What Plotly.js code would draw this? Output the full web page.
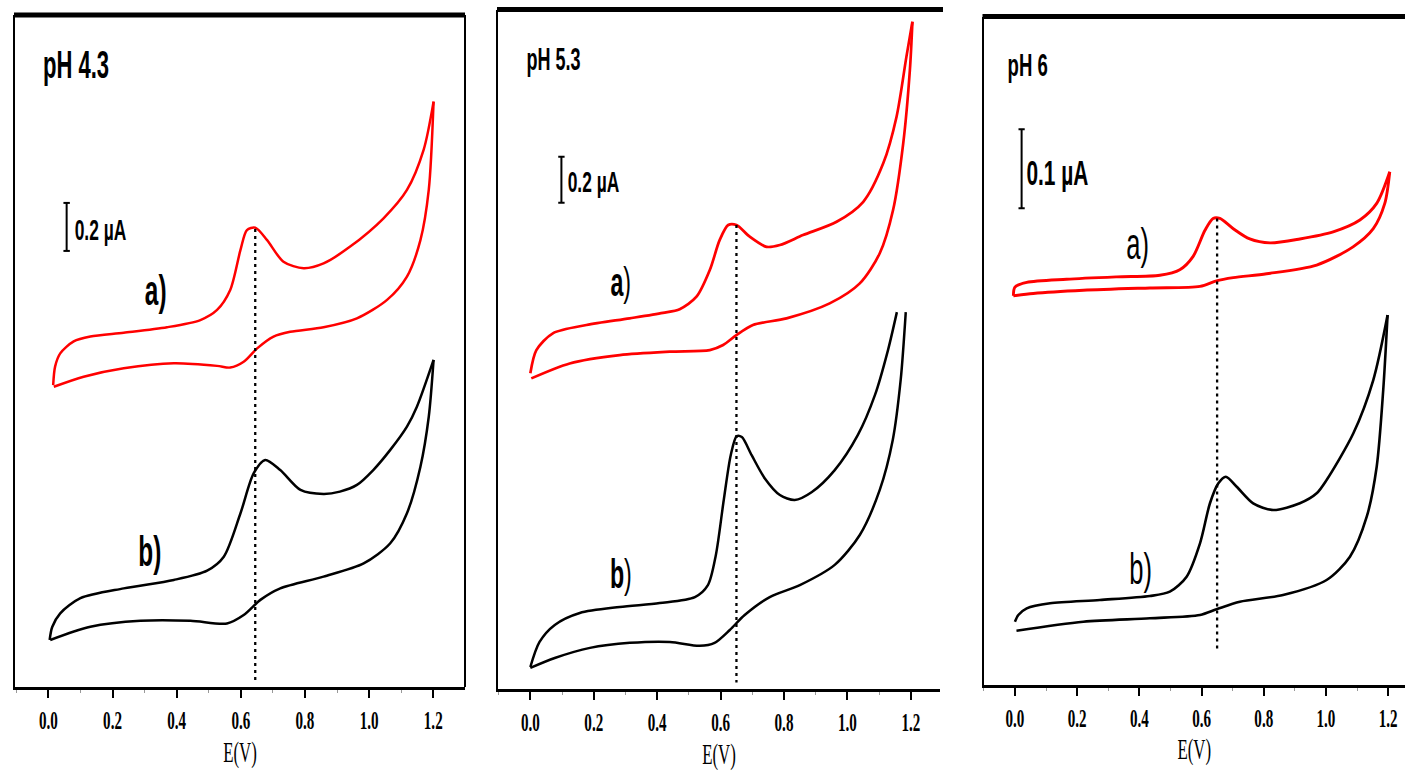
<!DOCTYPE html>
<html>
<head>
<meta charset="utf-8">
<script src="https://cdn.plot.ly/plotly-3.0.1.min.js"></script>
<style>html,body{margin:0;padding:0;background:#fff;}#chart{width:1405px;height:774px;}</style>
</head>
<body>
<div id="chart"></div>
<script>
// ---------- DATA (E in V, I in µA) ----------
// pH 4.3
const ph43_a_fwd_E = [0.015,0.021,0.037,0.079,0.131,0.235,0.37,0.474,0.526,0.567,0.599,0.619,0.645,0.682,0.733,0.796,0.858,0.941,1.045,1.118,1.17,1.201];
const ph43_a_fwd_I = [1.258,1.335,1.39,1.44,1.46,1.476,1.499,1.529,1.571,1.654,1.821,1.904,1.914,1.862,1.772,1.745,1.765,1.835,1.953,2.071,2.238,2.439];
const ph43_a_rev_E = [1.201,1.186,1.16,1.118,1.056,0.962,0.858,0.754,0.702,0.651,0.609,0.567,0.526,0.391,0.235,0.11,0.017];
const ph43_a_rev_I = [2.439,2.071,1.862,1.71,1.613,1.536,1.499,1.48,1.46,1.411,1.355,1.331,1.338,1.349,1.328,1.293,1.251];
const ph43_b_fwd_E = [0.004,0.012,0.037,0.1,0.235,0.391,0.495,0.547,0.599,0.64,0.676,0.723,0.786,0.858,0.909,0.962,1.013,1.066,1.118,1.149,1.201];
const ph43_b_fwd_I = [0.196,0.25,0.307,0.37,0.411,0.446,0.485,0.543,0.724,0.89,0.946,0.904,0.821,0.804,0.814,0.842,0.904,0.988,1.085,1.168,1.363];
const ph43_b_rev_E = [1.201,1.186,1.16,1.118,1.066,0.983,0.858,0.723,0.661,0.609,0.557,0.443,0.287,0.131,0.006];
const ph43_b_rev_I = [1.363,1.126,0.918,0.724,0.599,0.515,0.46,0.411,0.363,0.3,0.265,0.276,0.276,0.251,0.196];
// pH 5.3
const ph53_a_fwd_E = [0.0,0.019,0.071,0.177,0.313,0.418,0.471,0.524,0.566,0.597,0.624,0.65,0.692,0.745,0.787,0.86,0.966,1.05,1.113,1.155,1.186,1.205];
const ph53_a_fwd_I = [1.374,1.475,1.548,1.584,1.613,1.637,1.653,1.707,1.823,1.953,2.019,2.019,1.968,1.924,1.932,1.975,2.033,2.12,2.287,2.49,2.75,2.903];
const ph53_a_rev_E = [1.205,1.197,1.176,1.144,1.102,1.039,0.944,0.808,0.702,0.65,0.608,0.566,0.44,0.282,0.124,0.003];
const ph53_a_rev_I = [2.903,2.693,2.374,2.084,1.896,1.765,1.678,1.613,1.584,1.54,1.497,1.475,1.468,1.453,1.417,1.352];
const ph53_b_fwd_E = [0.0,0.029,0.077,0.156,0.282,0.408,0.519,0.56,0.585,0.61,0.632,0.651,0.667,0.698,0.739,0.787,0.834,0.888,0.96,1.033,1.087,1.128,1.156];
const ph53_b_fwd_I = [0.097,0.206,0.28,0.332,0.358,0.375,0.401,0.453,0.583,0.823,1.018,1.101,1.097,1.018,0.918,0.845,0.823,0.858,0.953,1.106,1.28,1.475,1.64];
const ph53_b_rev_E = [1.184,1.168,1.143,1.102,1.039,0.96,0.85,0.755,0.676,0.629,0.581,0.534,0.44,0.314,0.188,0.077,0.0];
const ph53_b_rev_I = [1.64,1.345,1.084,0.867,0.671,0.541,0.453,0.401,0.323,0.258,0.202,0.189,0.206,0.202,0.18,0.136,0.093];
// pH 6
const ph6_a_fwd_E = [-0.005,0.0,0.038,0.166,0.327,0.466,0.53,0.573,0.611,0.637,0.659,0.702,0.755,0.82,0.916,1.023,1.109,1.163,1.205];
const ph6_a_fwd_I = [0.492,0.503,0.509,0.513,0.516,0.518,0.525,0.542,0.575,0.59,0.59,0.577,0.564,0.559,0.564,0.573,0.588,0.609,0.649];
const ph6_a_rev_E = [1.205,1.189,1.152,1.087,0.97,0.809,0.702,0.648,0.595,0.434,0.22,0.059,-0.005];
const ph6_a_rev_I = [0.649,0.609,0.577,0.554,0.531,0.52,0.515,0.511,0.504,0.502,0.499,0.495,0.492];
const ph6_b_fwd_E = [0.0,0.011,0.038,0.113,0.273,0.434,0.498,0.552,0.595,0.627,0.654,0.678,0.713,0.766,0.83,0.916,0.97,1.002,1.088,1.152,1.198];
const ph6_b_fwd_I = [0.0795,0.088,0.0964,0.1028,0.107,0.112,0.1175,0.1365,0.1787,0.2294,0.2547,0.263,0.2504,0.2294,0.2209,0.2294,0.242,0.2589,0.318,0.3854,0.4677];
const ph6_b_rev_E = [1.198,1.184,1.163,1.131,1.077,1.002,0.862,0.723,0.648,0.595,0.434,0.22,0.005];
const ph6_b_rev_I = [0.4677,0.3728,0.2757,0.2124,0.1618,0.1323,0.1133,0.1048,0.0952,0.088,0.0838,0.0795,0.0681];
// dotted peak-potential markers, one per panel
const peakE = [0.645, 0.65, 0.65];
const peakTopI = [1.908, 2.019, 0.59];
const peakBottomI = [0.017, 0.03, 0.0437];
// panel titles, scale bars, ticks
const panelTitles = ["pH 4.3", "pH 5.3", "pH 6"];
const scaleBarValues = [0.2, 0.2, 0.1];
const xTickVals = [0.0, 0.2, 0.4, 0.6, 0.8, 1.0, 1.2];

// ---------- LAYOUT HELPERS ----------
const W = 1405, H = 774;
const px = p => p / W;
const py = p => 1 - p / H;
const sans = "Liberation Sans, Arial, sans-serif";
const serif = "Liberation Serif, Times New Roman, serif";
const SQUEEZE = 0.58;   // the original artwork is horizontally condensed

const traces = [];
function cv(E, I, color, width, ax) {
  traces.push({x: E, y: I, xaxis: ax[0], yaxis: ax[1], type: 'scatter', mode: 'lines',
    line: {color: color, width: width, shape: 'spline', smoothing: 0.8}, hoverinfo: 'skip', showlegend: false});
}
const axes = [['x','y'],['x2','y2'],['x3','y3']];
const RED = '#ff0000', BLACK = '#000000';
cv(ph43_a_fwd_E, ph43_a_fwd_I, RED, 2.5, axes[0]);
cv(ph43_a_rev_E, ph43_a_rev_I, RED, 2.5, axes[0]);
cv(ph43_b_fwd_E, ph43_b_fwd_I, BLACK, 2.5, axes[0]);
cv(ph43_b_rev_E, ph43_b_rev_I, BLACK, 2.5, axes[0]);
cv(ph53_a_fwd_E, ph53_a_fwd_I, RED, 2.7, axes[1]);
cv(ph53_a_rev_E, ph53_a_rev_I, RED, 2.7, axes[1]);
cv(ph53_b_fwd_E, ph53_b_fwd_I, BLACK, 2.5, axes[1]);
cv(ph53_b_rev_E, ph53_b_rev_I, BLACK, 2.5, axes[1]);
cv(ph6_a_fwd_E, ph6_a_fwd_I, RED, 2.9, axes[2]);
cv(ph6_a_rev_E, ph6_a_rev_I, RED, 2.9, axes[2]);
cv(ph6_b_fwd_E, ph6_b_fwd_I, BLACK, 2.6, axes[2]);
cv(ph6_b_rev_E, ph6_b_rev_I, BLACK, 2.6, axes[2]);
for (let k = 0; k < 3; k++) {
  traces.push({x: [peakE[k], peakE[k]], y: [peakTopI[k], peakBottomI[k]], xaxis: axes[k][0], yaxis: axes[k][1],
    type: 'scatter', mode: 'lines', line: {color: BLACK, width: 2.3, dash: '3px,4px'}, hoverinfo: 'skip', showlegend: false});
}

function xax(domain, range) {
  return {domain: domain, range: range, showline: true, linewidth: 3, linecolor: BLACK,
    ticks: 'outside', ticklen: 8, tickwidth: 2, tickcolor: BLACK,
    tickvals: xTickVals, tickformat: '.1f', showgrid: false, zeroline: false,
    tickfont: {family: serif, size: 26, weight: 'bold', color: BLACK},
    minor: {tickvals: [-0.1,0.1,0.3,0.5,0.7,0.9,1.1], ticks: 'outside', ticklen: 3, tickwidth: 1, tickcolor: '#999'},
    title: {text: 'E(V)', font: {family: serif, size: 29, color: BLACK}, standoff: 8},
    fixedrange: true};
}
function yax(domain, range, anchor) {
  return {domain: domain, range: range, anchor: anchor, showline: true, linewidth: 2, linecolor: BLACK,
    showticklabels: false, ticks: '', showgrid: false, zeroline: false, fixedrange: true};
}

const layout = {
  width: W, height: H, margin: {l: 0, r: 0, t: 0, b: 0},
  paper_bgcolor: '#fff', plot_bgcolor: '#fff', showlegend: false,
  xaxis:  Object.assign(xax([px(15), px(465)], [-0.104, 1.299]), {anchor: 'y'}),
  yaxis:  yax([py(687), py(15)], [0, 2.8], 'x'),
  xaxis2: Object.assign(xax([px(498), px(940)], [-0.102, 1.292]), {anchor: 'y2'}),
  yaxis2: yax([py(689.3), py(9.5)], [0, 2.956], 'x2'),
  xaxis3: Object.assign(xax([px(983.5), 1], [-0.101, 1.254]), {anchor: 'y3'}),
  yaxis3: yax([py(684.5), py(16.5)], [0, 0.8456], 'x3'),
  shapes: [], annotations: []
};

// frames: thick top lines, right border of first panel
const frameTop = [[15, 465, 15], [498, 943, 9.5], [983.5, 1405, 16.5]];
frameTop.forEach(f => layout.shapes.push({type: 'line', xref: 'paper', yref: 'paper',
  x0: px(f[0] - 1), x1: px(f[1]), y0: py(f[2]), y1: py(f[2]), line: {color: BLACK, width: 5}}));
layout.shapes.push({type: 'line', xref: 'paper', yref: 'paper', x0: px(465), x1: px(465), y0: py(687), y1: py(15), line: {color: BLACK, width: 2}});

// scale bars (data coordinates of each panel)
const bars = [[0.057, 1.817, 'x', 'y', 0.010], [0.098, 2.116, 'x2', 'y2', 0.010], [0.0215, 0.603, 'x3', 'y3', 0.010]];
bars.forEach((b, k) => {
  const top = b[1] + scaleBarValues[k];
  layout.shapes.push({type: 'line', xref: b[2], yref: b[3], x0: b[0], x1: b[0], y0: b[1], y1: top, line: {color: BLACK, width: 2}});
  layout.shapes.push({type: 'line', xref: b[2], yref: b[3], x0: b[0] - b[4], x1: b[0] + b[4], y0: b[1], y1: b[1], line: {color: BLACK, width: 2}});
  layout.shapes.push({type: 'line', xref: b[2], yref: b[3], x0: b[0] - b[4], x1: b[0] + b[4], y0: top, y1: top, line: {color: BLACK, width: 2}});
});

function ann(text, x, y, size, weight) {
  layout.annotations.push({text: text, xref: 'paper', yref: 'paper', x: px(x), y: py(y),
    xanchor: 'center', yanchor: 'middle', showarrow: false,
    font: {family: sans, size: size, color: BLACK, weight: weight}});
}
ann(panelTitles[0], 75.5, 65, 38, 'bold');
ann(panelTitles[1], 553, 59.5, 31, 'bold');
ann(panelTitles[2], 1027.5, 65, 32, 'bold');
ann(scaleBarValues[0].toFixed(1) + ' µA', 100, 229, 30, 'bold');
ann(scaleBarValues[1].toFixed(1) + ' µA', 593, 181, 30, 'bold');
ann(scaleBarValues[2].toFixed(1) + ' µA', 1057.5, 172, 36, 'bold');
ann('a)', 155.5, 290, 42, 'bold');
ann('b)', 150, 551, 42, 'bold');
ann('<b>a</b>)', 621, 282, 40, 'normal');
ann('<b>b</b>)', 621, 574, 40, 'normal');
ann('a)', 1137.5, 243, 44, 'normal');
ann('b)', 1140, 568, 44, 'normal');

function squeeze(selector, s) {
  document.querySelectorAll(selector).forEach(t => {
    const b = t.getBBox();
    const cx = b.x + b.width / 2;
    const tr = t.getAttribute('transform') || '';
    t.setAttribute('transform', tr + ' translate(' + cx + ',0) scale(' + s + ',1) translate(' + (-cx) + ',0)');
  });
}

Plotly.newPlot('chart', traces, layout, {staticPlot: true, displayModeBar: false}).then(() => {
  squeeze('#chart text.annotation-text', SQUEEZE);
  squeeze('#chart .xtick text, #chart .x2tick text, #chart .x3tick text', SQUEEZE);
  squeeze('#chart .xtitle, #chart .x2title, #chart .x3title', SQUEEZE);
});
</script>
</body>
</html>
